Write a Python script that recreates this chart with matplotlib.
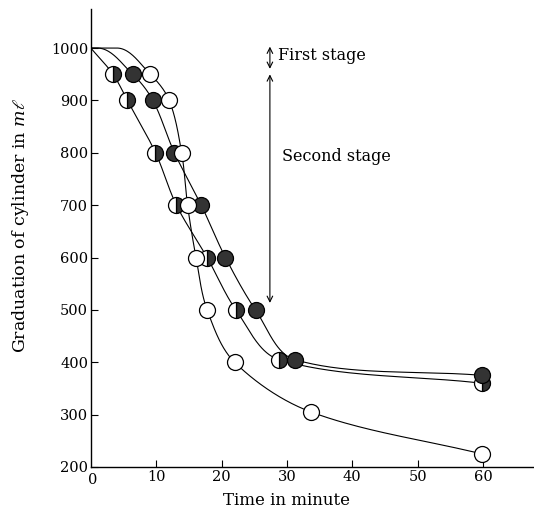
import matplotlib
matplotlib.use("Agg")
import matplotlib.pyplot as plt
import numpy as np

plt.rcParams['font.family'] = ['DejaVu Serif']
plt.rcParams['mathtext.fontset'] = 'dejavuserif'

# readings (time in min, graduation in ml)
half_t = [0, 3.4, 5.6, 9.9, 13.1, 17.8, 22.2, 28.8, 59.8]
half_v = [1000, 950, 900, 800, 700, 600, 500, 405, 360]

dark_t = [0, 1.0, 6.4, 9.5, 12.8, 16.9, 20.6, 25.2, 31.2, 59.8]
dark_v = [1000, 1000, 950, 900, 800, 700, 600, 500, 405, 375]

open_t = [0, 4.0, 9.1, 12.0, 13.9, 14.8, 16.1, 17.8, 22.0, 33.7, 59.8]
open_v = [1000, 1000, 950, 900, 800, 700, 600, 500, 400, 305, 225]

x_ticks = [10, 20, 30, 40, 50, 60]
y_ticks = [200, 300, 400, 500, 600, 700, 800, 900, 1000]


def smooth(x, y, n=40):
    # parametric hermite curve (catmull-rom style tangents) in a roughly
    # isotropic space, tangent kept level where the curve leaves a flat run
    sx, sy = 6.56, 0.524
    P = np.column_stack([np.asarray(x, float) * sx, np.asarray(y, float) * sy])
    seg = np.linalg.norm(np.diff(P, axis=0), axis=1)
    t = np.concatenate([[0], np.cumsum(seg)])
    T = np.zeros_like(P)
    T[0] = (P[1] - P[0]) / seg[0]
    T[-1] = (P[-1] - P[-2]) / seg[-1]
    for i in range(1, len(P) - 1):
        T[i] = (P[i + 1] - P[i - 1]) / (t[i + 1] - t[i - 1])
        if P[i, 1] == P[i - 1, 1]:
            T[i] = [np.linalg.norm(T[i]), 0]
    out = []
    for i in range(len(P) - 1):
        h = seg[i]
        s = np.linspace(0, 1, n)[:, None]
        h00 = 2 * s**3 - 3 * s**2 + 1
        h10 = s**3 - 2 * s**2 + s
        h01 = -2 * s**3 + 3 * s**2
        h11 = s**3 - s**2
        out.append(h00 * P[i] + h10 * h * T[i] + h01 * P[i + 1] + h11 * h * T[i + 1])
    C = np.vstack(out)
    return C[:, 0] / sx, C[:, 1] / sy


fig = plt.figure(figsize=(5.34, 5.16), dpi=100)
ax = fig.add_axes([0.170, 0.095, 0.830, 0.888])

dark = '#333333'
ms = 11.5

for tt, vv in [(half_t, half_v), (dark_t, dark_v), (open_t, open_v)]:
    xs, ys = smooth(tt, vv)
    ax.plot(xs, ys, color='black', lw=0.8, zorder=2)

# markers (skip the starting point / flat part)
ax.plot(half_t[1:], half_v[1:], 'o', ms=ms, mec='black', mew=0.9,
        fillstyle='right', mfc=dark, mfcalt='white', zorder=3)
ax.plot(dark_t[2:], dark_v[2:], 'o', ms=ms, mec='black', mew=0.9,
        mfc=dark, zorder=3)
ax.plot(open_t[2:], open_v[2:], 'o', ms=ms, mec='black', mew=0.9,
        mfc='white', zorder=3)

# stage arrows
ax.annotate('', xy=(27.4, 1008), xytext=(27.4, 955),
            arrowprops=dict(arrowstyle='<->', color='black', lw=0.8))
ax.annotate('', xy=(27.4, 955), xytext=(27.4, 508),
            arrowprops=dict(arrowstyle='<->', color='black', lw=0.8))
ax.text(28.6, 986, 'First stage', fontsize=11.5, va='center', ha='left')
ax.text(29.2, 792, 'Second stage', fontsize=11.5, va='center', ha='left')

ax.set_xlim(0, 67.8)
ax.set_ylim(200, 1075)
ax.set_xticks(x_ticks)
ax.set_yticks(y_ticks)
ax.tick_params(direction='in', length=5, width=0.8, labelsize=10.5, pad=2)
ax.text(0.3, 188, '0', fontsize=10.5, ha='center', va='top')

ax.spines['top'].set_visible(False)
ax.spines['right'].set_visible(False)
ax.spines['left'].set_linewidth(1.0)
ax.spines['bottom'].set_linewidth(1.0)

ax.set_xlabel('Time in minute', fontsize=12)
ax.xaxis.set_label_coords(30 / 67.8, -0.055)
ax.set_ylabel(r'Graduation of cylinder in $m\ell$', fontsize=12.5)
ax.yaxis.set_label_coords(-0.135, 0.528)

fig.savefig('out.png', dpi=100)
